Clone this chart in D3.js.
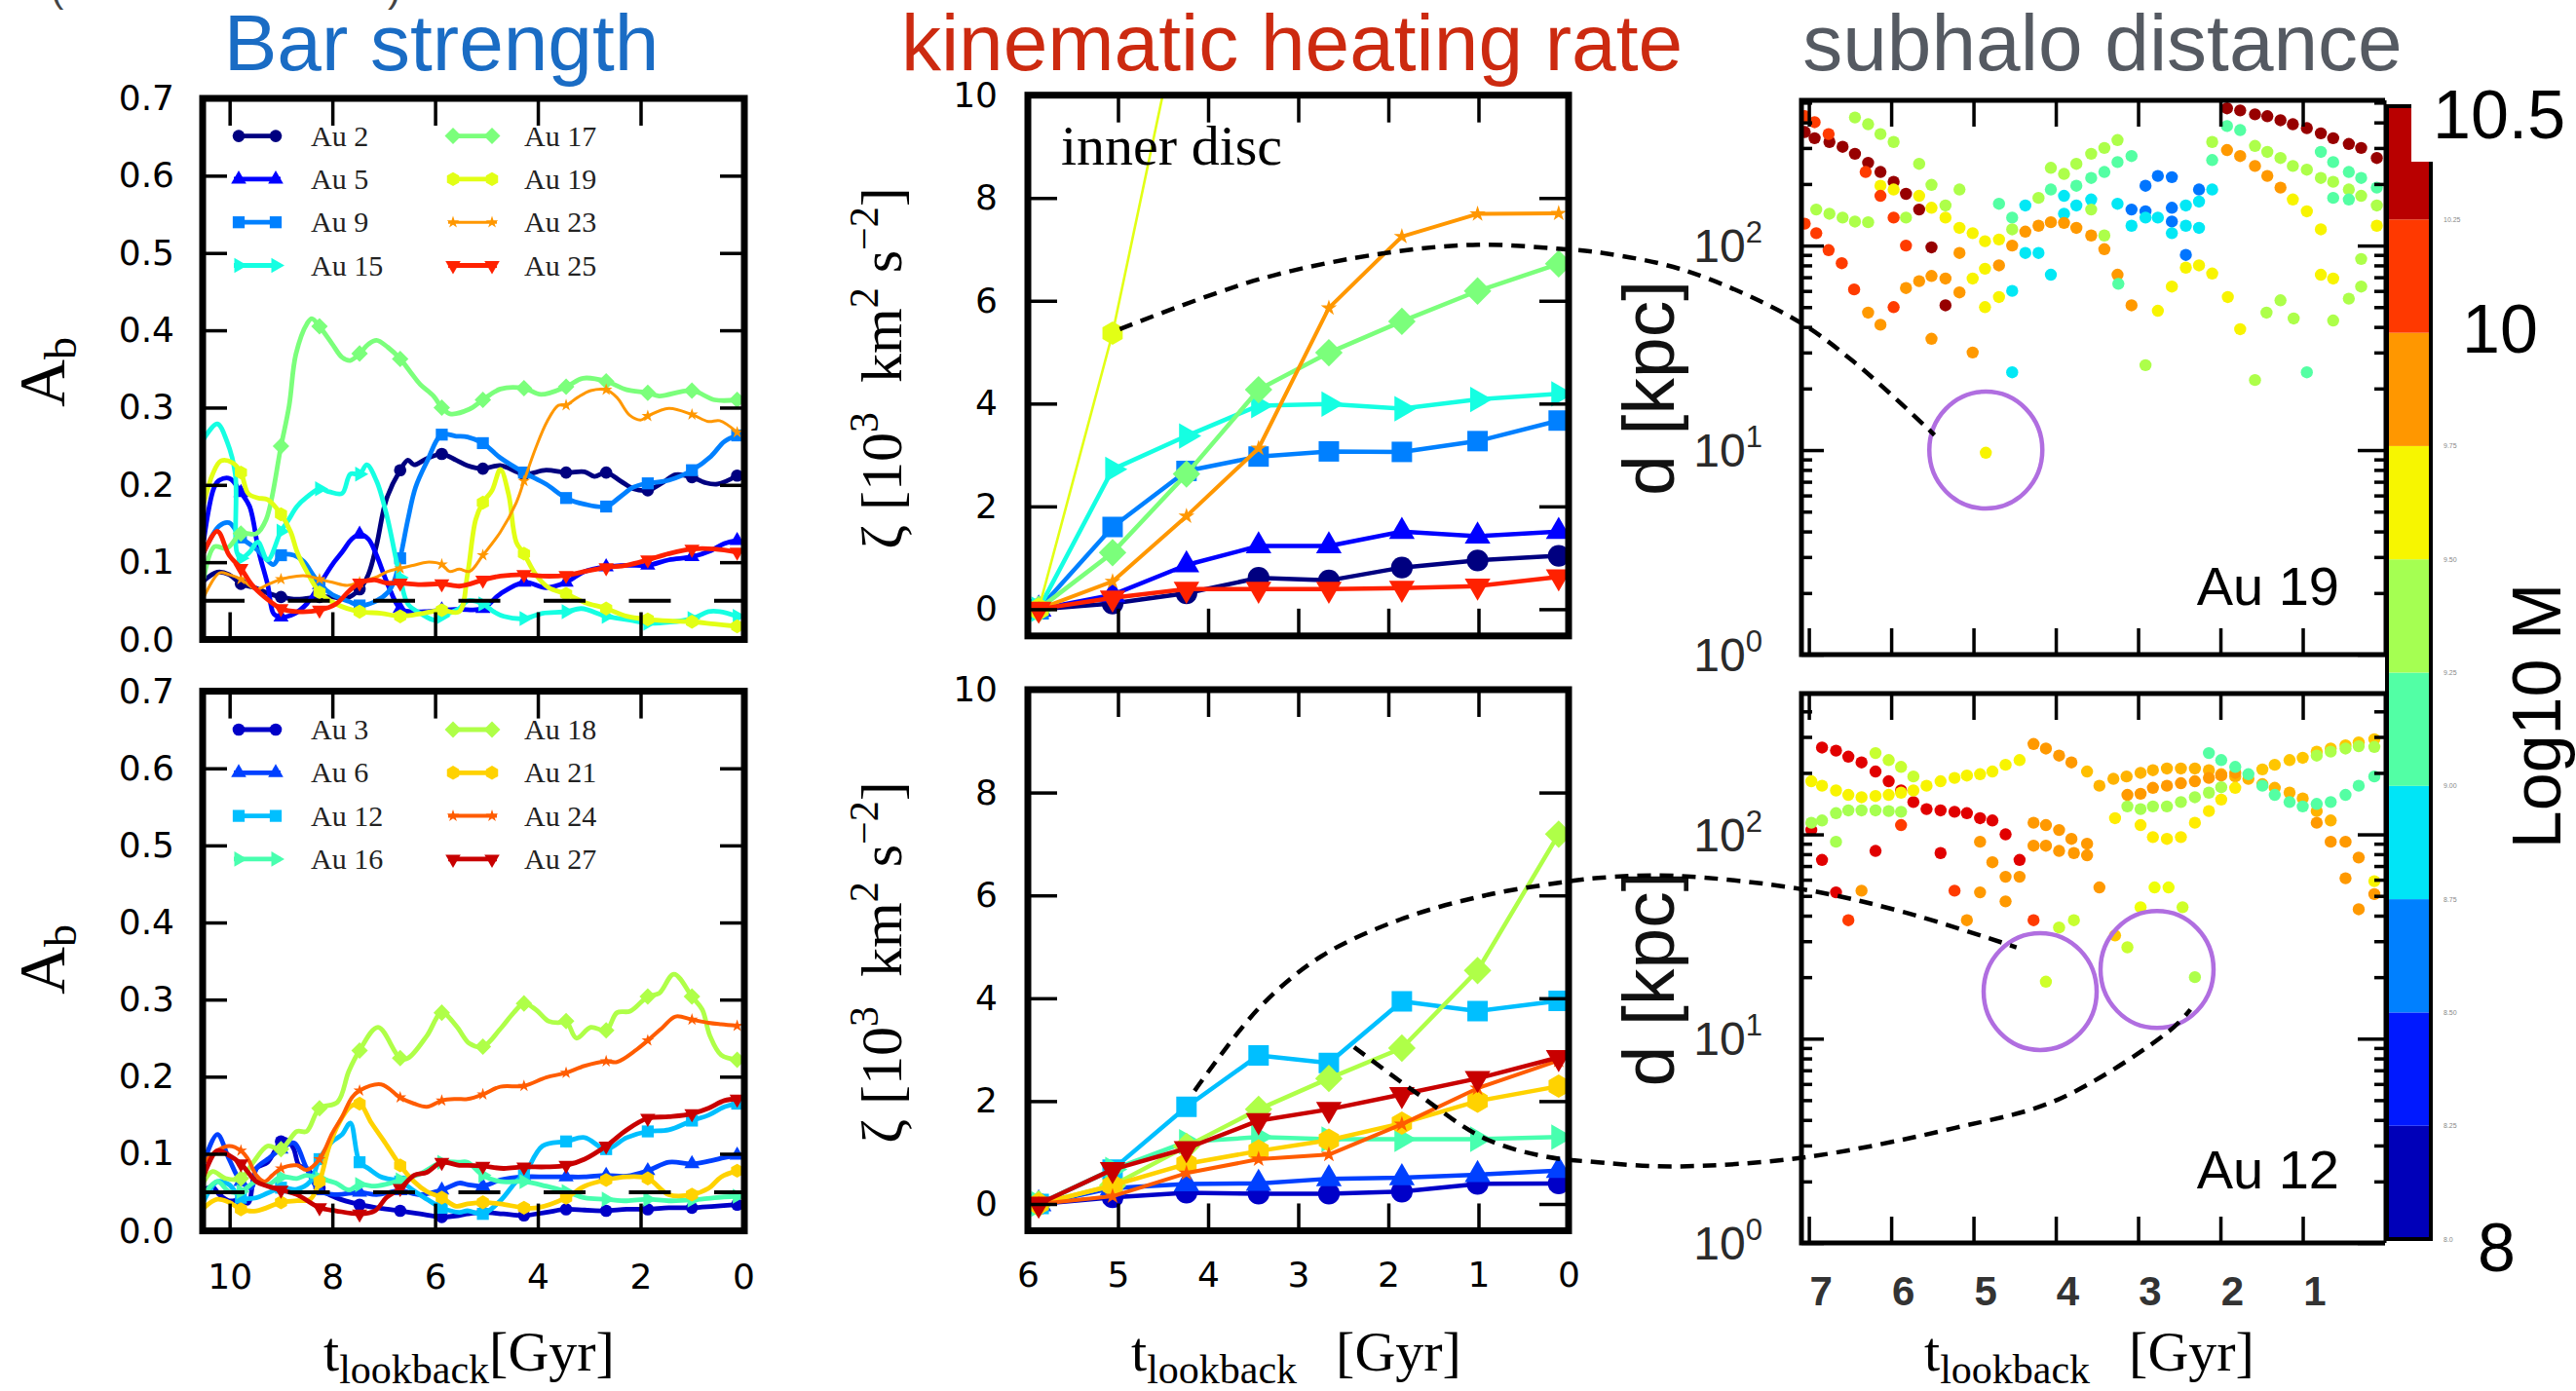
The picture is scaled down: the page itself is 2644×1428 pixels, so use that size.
<!DOCTYPE html>
<html><head><meta charset="utf-8">
<script src="https://cdn.jsdelivr.net/npm/d3@7"></script>
<style>
html,body{margin:0;padding:0;background:#fff;}
svg{display:block;}
</style></head>
<body>
<svg id="fig" width="2644" height="1428" xmlns="http://www.w3.org/2000/svg"></svg>
<script>
// ================= DATA =================
const barTopNames = ["Au 2","Au 5","Au 9","Au 15","Au 17","Au 19","Au 23","Au 25"];
const barBottomNames = ["Au 3","Au 6","Au 12","Au 16","Au 18","Au 21","Au 24","Au 27"];
const markerTimes = [9.78,9.0,8.25,7.47,6.68,5.87,5.07,4.27,3.45,2.67,1.86,1.0,0.12];

// bar strength A_b vs lookback time [Gyr, A_b]
const barAu2 = [[10.5,0.076],[10.24,0.087],[10.01,0.084],[9.78,0.072],[9.51,0.067],[9.26,0.06],[9.0,0.055],[8.69,0.052],[8.25,0.055],[8.0,0.055],[7.74,0.053],[7.47,0.065],[7.3,0.084],[7.14,0.122],[6.95,0.181],[6.68,0.219],[6.53,0.232],[6.41,0.226],[6.16,0.234],[5.87,0.24],[5.59,0.232],[5.37,0.225],[5.07,0.221],[4.73,0.225],[4.27,0.214],[3.84,0.219],[3.45,0.216],[3.09,0.217],[2.9,0.211],[2.67,0.216],[2.39,0.205],[2.14,0.195],[1.86,0.193],[1.57,0.203],[1.32,0.213],[1.0,0.21],[0.75,0.203],[0.5,0.201],[0.12,0.212]];
const barAu5 = [[10.5,0.13],[10.3,0.197],[10.2,0.206],[9.99,0.208],[9.78,0.19],[9.61,0.172],[9.43,0.113],[9.26,0.071],[9.14,0.033],[9.0,0.029],[8.75,0.033],[8.5,0.046],[8.25,0.071],[8.0,0.097],[7.81,0.113],[7.62,0.13],[7.47,0.136],[7.3,0.13],[7.14,0.109],[6.92,0.071],[6.68,0.04],[6.47,0.036],[6.16,0.036],[5.87,0.038],[5.53,0.039],[5.07,0.04],[4.73,0.059],[4.27,0.074],[3.84,0.067],[3.45,0.074],[3.09,0.088],[2.67,0.094],[2.27,0.096],[1.86,0.096],[1.45,0.103],[1.0,0.107],[0.63,0.115],[0.37,0.124],[0.12,0.128]];
const barAu9 = [[10.5,0.113],[10.2,0.147],[10.01,0.151],[9.78,0.132],[9.48,0.117],[9.3,0.105],[9.15,0.097],[9.0,0.109],[8.75,0.109],[8.56,0.101],[8.38,0.084],[8.25,0.072],[8.0,0.058],[7.67,0.049],[7.47,0.044],[7.17,0.049],[6.92,0.061],[6.8,0.075],[6.68,0.105],[6.53,0.155],[6.38,0.197],[6.16,0.23],[5.87,0.265],[5.59,0.263],[5.37,0.262],[5.07,0.254],[4.73,0.235],[4.27,0.216],[3.84,0.201],[3.45,0.183],[3.09,0.175],[2.67,0.172],[2.39,0.185],[2.14,0.197],[1.86,0.202],[1.45,0.206],[1.0,0.219],[0.63,0.237],[0.37,0.256],[0.12,0.264]];
const barAu15 = [[10.5,0.26],[10.24,0.279],[10.05,0.256],[9.89,0.214],[9.86,0.113],[9.78,0.105],[9.61,0.113],[9.45,0.126],[9.26,0.103],[9.0,0.14],[8.85,0.155],[8.69,0.172],[8.5,0.184],[8.25,0.195],[8.06,0.191],[7.81,0.189],[7.65,0.214],[7.47,0.214],[7.33,0.226],[7.14,0.205],[6.95,0.163],[6.68,0.08],[6.53,0.046],[6.29,0.034],[6.0,0.025],[5.87,0.03],[5.53,0.04],[5.37,0.05],[5.07,0.046],[4.86,0.036],[4.66,0.03],[4.27,0.027],[3.91,0.034],[3.45,0.036],[3.15,0.04],[2.67,0.03],[2.2,0.025],[1.86,0.021],[1.0,0.027],[0.68,0.036],[0.46,0.036],[0.12,0.03]];
const barAu17 = [[10.5,0.08],[10.3,0.12],[10.05,0.118],[9.78,0.137],[9.48,0.137],[9.29,0.155],[9.0,0.25],[8.84,0.303],[8.71,0.369],[8.49,0.409],[8.4,0.415],[8.25,0.405],[8.0,0.382],[7.81,0.365],[7.65,0.361],[7.47,0.37],[7.3,0.382],[7.14,0.387],[6.92,0.378],[6.68,0.363],[6.48,0.346],[6.29,0.33],[6.03,0.315],[5.87,0.30],[5.71,0.292],[5.33,0.298],[5.07,0.31],[4.73,0.324],[4.27,0.325],[3.94,0.317],[3.45,0.327],[3.12,0.338],[2.67,0.334],[2.27,0.323],[1.86,0.319],[1.64,0.315],[1.0,0.322],[0.56,0.31],[0.12,0.31]];
const barAu19 = [[10.5,0.177],[10.33,0.214],[10.17,0.231],[9.95,0.229],[9.78,0.216],[9.64,0.189],[9.45,0.183],[9.26,0.181],[9.0,0.162],[8.81,0.139],[8.69,0.114],[8.5,0.088],[8.25,0.061],[7.93,0.046],[7.47,0.036],[7.05,0.034],[6.68,0.03],[6.23,0.034],[5.87,0.038],[5.53,0.036],[5.37,0.084],[5.21,0.155],[5.07,0.177],[4.89,0.193],[4.73,0.22],[4.57,0.188],[4.42,0.126],[4.27,0.111],[4.04,0.084],[3.79,0.067],[3.45,0.059],[3.09,0.048],[2.67,0.04],[2.27,0.03],[1.86,0.026],[1.45,0.024],[1.0,0.023],[0.56,0.02],[0.12,0.017]];
const barAu23 = [[10.5,0.055],[10.2,0.086],[10.01,0.084],[9.78,0.078],[9.48,0.065],[9.26,0.071],[9.0,0.078],[8.69,0.082],[8.47,0.082],[8.25,0.078],[8.0,0.074],[7.71,0.07],[7.47,0.074],[7.17,0.08],[6.92,0.088],[6.68,0.092],[6.41,0.096],[6.16,0.1],[5.87,0.097],[5.72,0.088],[5.53,0.091],[5.33,0.088],[5.07,0.109],[4.73,0.139],[4.42,0.177],[4.27,0.205],[4.04,0.248],[3.82,0.282],[3.6,0.303],[3.45,0.303],[3.23,0.313],[2.97,0.322],[2.67,0.323],[2.46,0.313],[2.21,0.29],[1.99,0.284],[1.86,0.289],[1.45,0.299],[1.0,0.291],[0.68,0.282],[0.46,0.283],[0.12,0.268]];
const barAu25 = [[10.5,0.113],[10.24,0.14],[10.01,0.109],[9.78,0.092],[9.57,0.071],[9.32,0.055],[9.0,0.04],[8.69,0.036],[8.25,0.038],[7.93,0.046],[7.67,0.063],[7.47,0.073],[7.17,0.077],[6.95,0.073],[6.68,0.073],[6.29,0.071],[5.87,0.072],[5.53,0.069],[5.37,0.071],[5.07,0.077],[4.73,0.082],[4.27,0.084],[3.91,0.082],[3.45,0.083],[3.09,0.088],[2.67,0.093],[2.27,0.096],[1.86,0.103],[1.45,0.111],[1.0,0.117],[0.56,0.117],[0.12,0.113]];

const barAu3 = [[10.5,0.053],[10.33,0.057],[10.2,0.047],[10.01,0.039],[9.78,0.04],[9.64,0.036],[9.48,0.081],[9.26,0.089],[9.0,0.116],[8.88,0.118],[8.75,0.106],[8.65,0.085],[8.5,0.081],[8.31,0.064],[8.25,0.055],[7.93,0.043],[7.47,0.034],[7.14,0.03],[6.68,0.026],[6.29,0.022],[5.87,0.018],[5.53,0.02],[5.37,0.022],[5.07,0.024],[4.67,0.022],[4.27,0.02],[3.84,0.024],[3.45,0.028],[3.09,0.027],[2.67,0.026],[2.27,0.028],[1.86,0.028],[1.45,0.03],[1.0,0.03],[0.56,0.032],[0.12,0.034]];
const barAu6 = [[10.5,0.089],[10.24,0.125],[10.01,0.093],[9.78,0.064],[9.57,0.056],[9.48,0.081],[9.26,0.093],[9.0,0.106],[8.75,0.114],[8.5,0.081],[8.25,0.052],[7.93,0.047],[7.47,0.05],[7.14,0.047],[6.68,0.052],[6.29,0.047],[5.87,0.053],[5.53,0.062],[5.37,0.06],[5.07,0.058],[4.73,0.066],[4.27,0.07],[3.84,0.07],[3.45,0.07],[3.09,0.07],[2.67,0.072],[2.27,0.071],[1.86,0.078],[1.45,0.089],[1.0,0.087],[0.63,0.091],[0.37,0.095],[0.12,0.098]];
const barAu12 = [[10.5,0.039],[10.24,0.064],[10.01,0.06],[9.78,0.043],[9.48,0.043],[9.26,0.049],[9.0,0.056],[8.69,0.054],[8.43,0.064],[8.25,0.093],[8.0,0.116],[7.81,0.125],[7.65,0.14],[7.47,0.089],[7.3,0.081],[7.05,0.07],[6.68,0.064],[6.41,0.052],[6.16,0.041],[5.87,0.03],[5.53,0.024],[5.37,0.026],[5.07,0.022],[4.73,0.039],[4.42,0.064],[4.27,0.072],[3.91,0.11],[3.45,0.116],[3.09,0.121],[2.67,0.106],[2.27,0.121],[1.86,0.129],[1.45,0.131],[1.0,0.143],[0.68,0.15],[0.37,0.161],[0.12,0.165]];
const barAu16 = [[10.5,0.047],[10.24,0.064],[10.01,0.051],[9.78,0.051],[9.48,0.064],[9.26,0.06],[9.0,0.07],[8.69,0.068],[8.5,0.072],[8.25,0.068],[7.93,0.062],[7.68,0.053],[7.47,0.06],[7.17,0.058],[6.86,0.062],[6.68,0.066],[6.29,0.074],[5.87,0.089],[5.53,0.089],[5.37,0.089],[5.07,0.072],[4.73,0.064],[4.27,0.064],[3.84,0.058],[3.45,0.051],[3.09,0.043],[2.67,0.041],[2.27,0.039],[1.86,0.041],[1.45,0.039],[1.0,0.04],[0.56,0.043],[0.12,0.045]];
const barAu18 = [[10.5,0.064],[10.33,0.077],[10.08,0.068],[9.78,0.068],[9.54,0.089],[9.26,0.11],[9.0,0.106],[8.69,0.129],[8.5,0.129],[8.25,0.159],[7.9,0.167],[7.68,0.207],[7.47,0.234],[7.11,0.264],[6.68,0.224],[6.53,0.224],[6.16,0.253],[5.87,0.283],[5.59,0.266],[5.33,0.243],[5.07,0.239],[4.73,0.262],[4.47,0.283],[4.27,0.295],[4.04,0.287],[3.79,0.272],[3.6,0.27],[3.45,0.272],[3.25,0.25],[2.97,0.264],[2.67,0.26],[2.46,0.283],[2.2,0.285],[1.86,0.304],[1.64,0.308],[1.35,0.333],[1.0,0.304],[0.8,0.287],[0.65,0.253],[0.43,0.228],[0.12,0.222]];
const barAu21 = [[10.5,0.03],[10.24,0.041],[10.01,0.037],[9.78,0.028],[9.48,0.026],[9.0,0.037],[8.69,0.039],[8.43,0.041],[8.25,0.064],[8.06,0.11],[7.87,0.14],[7.65,0.161],[7.47,0.165],[7.24,0.14],[6.98,0.115],[6.68,0.085],[6.41,0.064],[6.16,0.051],[5.87,0.043],[5.59,0.032],[5.37,0.035],[5.07,0.037],[4.73,0.035],[4.27,0.03],[4.01,0.03],[3.45,0.043],[3.09,0.058],[2.67,0.066],[2.27,0.07],[1.86,0.068],[1.45,0.047],[1.0,0.047],[0.68,0.055],[0.43,0.07],[0.12,0.078]];
const barAu24 = [[10.5,0.089],[10.24,0.104],[10.01,0.11],[9.78,0.104],[9.64,0.093],[9.48,0.072],[9.32,0.064],[9.17,0.072],[9.0,0.081],[8.69,0.085],[8.5,0.079],[8.25,0.093],[8.0,0.127],[7.81,0.148],[7.62,0.173],[7.47,0.182],[7.05,0.19],[6.68,0.173],[6.41,0.165],[6.16,0.161],[5.87,0.169],[5.59,0.171],[5.37,0.171],[5.07,0.177],[4.73,0.187],[4.27,0.188],[3.84,0.199],[3.45,0.205],[3.09,0.214],[2.67,0.22],[2.46,0.219],[2.08,0.235],[1.86,0.247],[1.57,0.264],[1.32,0.278],[1.0,0.274],[0.68,0.27],[0.43,0.268],[0.12,0.266]];
const barAu27 = [[10.5,0.072],[10.24,0.104],[10.01,0.098],[9.78,0.087],[9.48,0.064],[9.26,0.058],[9.0,0.053],[8.69,0.047],[8.25,0.03],[7.93,0.026],[7.47,0.022],[7.17,0.026],[6.95,0.043],[6.68,0.055],[6.41,0.072],[6.16,0.076],[5.87,0.089],[5.53,0.085],[5.37,0.085],[5.07,0.084],[4.67,0.081],[4.27,0.083],[3.84,0.083],[3.45,0.085],[3.09,0.093],[2.67,0.11],[2.27,0.131],[1.86,0.146],[1.45,0.148],[1.0,0.152],[0.68,0.159],[0.37,0.169],[0.12,0.171]];

// kinematic heating rate zeta [10^3 km^2 s^-2] at snapshot lookback times
const heatTimes = [5.88,5.06,4.24,3.44,2.66,1.85,1.01,0.11];
const zetaAu2  = [0,0.11,0.31,0.61,0.56,0.81,0.95,1.04];
const zetaAu5  = [0,0.28,0.86,1.23,1.23,1.51,1.42,1.51];
const zetaAu9  = [0,1.60,2.69,2.97,3.07,3.06,3.27,3.67];
const zetaAu15 = [0,2.72,3.37,3.96,3.99,3.90,4.08,4.19];
const zetaAu17 = [0,1.10,2.63,4.27,4.99,5.60,6.19,6.72];
const zetaAu19 = [0,5.37,12.2];
const zetaAu23 = [0,0.54,1.81,3.13,5.86,7.25,7.69,7.70];
const zetaAu25 = [0,0.22,0.39,0.39,0.39,0.41,0.45,0.63];
const zetaAu3  = [0,0.13,0.22,0.20,0.20,0.24,0.39,0.40];
const zetaAu6  = [0,0.31,0.39,0.40,0.49,0.51,0.57,0.65];
const zetaAu12 = [0,0.67,1.89,2.89,2.74,3.94,3.75,3.95];
const zetaAu16 = [0,0.67,1.21,1.30,1.26,1.26,1.26,1.30];
const zetaAu18 = [0,0.36,1.12,1.84,2.44,3.03,4.54,7.19];
const zetaAu21 = [0,0.36,0.78,1.03,1.24,1.57,2.00,2.29];
const zetaAu24 = [0,0.15,0.60,0.87,0.96,1.55,2.25,2.79];
const zetaAu27 = [0,0.67,1.08,1.62,1.84,2.13,2.44,2.85];

// subhalo distances [lookback Gyr, d kpc, log10 M]
const au19Subhalos = [
[7.05,429,10.12],[6.93,401,10.12],[7.05,359,10.45],[6.93,335,10.45],[6.91,150,9.4],[7.05,128,10.12],[6.91,115,10.12],
[6.75,321,10.45],[6.76,351,10.12],[6.75,143,9.4],[6.76,95,10.12],
[6.59,304,10.45],[6.59,137,9.4],[6.60,82,10.12],
[6.44,423,9.4],[6.44,281,10.45],[6.44,131,9.4],[6.45,61,10.12],
[6.28,392,9.4],[6.28,254,10.45],[6.31,229,10.12],[6.28,130,9.4],[6.28,47,9.87],
[6.13,351,9.4],[6.13,229,10.45],[6.13,196,9.63],[6.13,175,10.12],[6.13,41,9.87],
[5.97,321,9.4],[5.97,205,10.45],[5.97,188,9.63],[5.97,137,10.12],[5.97,50,10.12],
[5.82,179,10.45],[5.82,137,9.4],[5.82,100,10.12],[5.82,62,9.87],
[5.66,251,9.4],[5.66,175,9.63],[5.66,150,10.45],[5.66,67,9.87],
[5.51,198,9.4],[5.51,153,9.63],[5.51,98,10.45],[5.51,71,9.87],[5.51,35,9.87],
[5.34,137,9.63],[5.34,157,9.4],[5.34,69,9.87],[5.34,51,10.45],
[5.17,188,9.4],[5.17,122,9.63],[5.17,92,9.87],[5.17,59,9.87],
[5.01,115,9.63],[5.01,69,9.63],[5.01,30,9.87],
[4.86,105,9.63],[4.86,77,9.63],[4.86,50,9.63],
[4.69,160,9.13],[4.69,107,9.63],[4.69,80,9.87],[4.69,56,9.63],
[4.53,137,9.13],[4.53,120,9.4],[4.53,100,9.87],[4.53,60,8.88],[4.53,24,8.88],
[4.37,157,8.88],[4.37,117,9.87],[4.37,92,8.88],
[4.21,171,9.4],[4.21,125,9.87],[4.21,92,8.88],
[4.06,240,9.4],[4.06,188,9.13],[4.06,130,9.87],[4.06,72,8.88],
[3.90,224,9.4],[3.90,175,8.88],[3.90,143,8.88],[3.90,129,9.87],
[3.75,251,9.4],[3.75,196,9.13],[3.75,157,8.88],[3.75,122,9.87],
[3.57,281,9.4],[3.57,214,9.13],[3.57,168,8.88],[3.57,150,9.4],[3.57,112,9.87],
[3.41,300,9.4],[3.41,229,9.13],[3.41,112,9.4],[3.41,96,9.87],
[3.25,328,9.4],[3.25,256,9.13],[3.25,160,8.88],[3.25,72,9.87],[3.24,65,9.13],
[3.08,274,9.13],[3.08,150,8.6],[3.08,125,8.88],[3.08,51,9.87],
[2.91,196,8.6],[2.91,147,8.6],[2.91,137,8.88],[2.91,26,9.4],
[2.76,219,8.6],[2.76,137,8.88],[2.76,48,9.63],
[2.59,216,8.6],[2.59,153,8.6],[2.59,131,8.6],[2.59,115,8.88],[2.59,63,9.63],
[2.42,157,8.88],[2.42,125,8.88],[2.42,90,8.6],[2.42,78,9.63],
[2.26,188,8.6],[2.26,164,8.88],[2.26,122,8.88],[2.26,80,9.63],
[2.10,321,9.4],[2.10,262,9.13],[2.10,188,8.88],[2.10,73,9.63],
[1.92,469,10.45],[1.92,384,9.13],[1.92,293,9.87],[1.91,56,9.63],
[1.76,458,10.45],[1.76,367,9.13],[1.76,274,9.87],[1.76,39,9.63],
[1.58,438,10.45],[1.58,307,9.4],[1.58,245,9.87],[1.58,22,9.4],
[1.43,429,10.45],[1.43,287,9.4],[1.43,219,9.87],[1.44,47,9.4],
[1.27,410,10.45],[1.27,268,9.4],[1.27,192,9.87],[1.27,54,9.4],
[1.12,392,10.45],[1.12,245,9.4],[1.12,168,9.63],[1.11,44,9.4],
[0.95,375,10.45],[0.95,235,9.4],[0.95,147,9.63],[0.95,24,9.13],
[0.78,354,10.45],[0.78,287,9.13],[0.78,214,9.4],[0.78,120,9.63],[0.78,72,9.63],
[0.63,335,10.45],[0.63,256,9.13],[0.63,205,9.4],[0.63,171,9.13],[0.63,69,9.63],[0.63,43,9.4],
[0.44,314,10.45],[0.44,229,9.13],[0.44,188,9.4],[0.44,168,9.13],[0.44,55,9.4],
[0.29,300,10.45],[0.29,214,9.13],[0.29,175,9.4],[0.29,86,9.4],[0.29,63,9.4],
[0.10,268,10.45],[0.10,192,9.13],[0.10,157,9.4],[0.10,125,9.63],
[4.85,9.7,9.63]
];
const au12Subhalos = [
[6.84,266,10.29],[6.67,257,10.29],[6.52,240,10.29],[6.36,225,10.29],[6.19,203,10.29],[6.03,182,10.29],[5.88,164,10.29],[5.73,144,10.29],[5.57,133,10.29],[5.40,131,10.29],[5.23,129,10.29],[5.08,127,10.29],[4.92,120,10.29],[4.77,117,10.29],[4.61,100,10.29],[4.44,75,10.29],
[6.97,105,10.29],[6.84,75,10.29],[6.19,83,10.29],[5.88,111,10.12],[5.40,81,10.29],[6.67,52,10.29],[6.52,38,10.12],[5.23,53,10.12],[4.27,38,10.12],
[6.97,182,9.63],[6.84,173,9.63],[6.67,164,9.63],[6.52,156,9.63],[6.36,152,9.63],[6.19,154,9.63],[6.03,156,9.63],[5.88,160,9.63],[5.73,164,9.63],[5.57,173,9.63],[5.40,182,9.63],[5.23,189,9.63],[5.08,194,9.63],[4.92,197,9.63],[4.77,203,9.63],[4.61,219,9.63],[4.44,231,9.63],
[6.19,250,9.48],[6.03,231,9.48],[5.88,214,9.48],[5.73,192,9.48],
[6.97,114,9.38],[6.84,117,9.38],[6.67,127,9.38],[6.52,131,9.38],[6.36,131,9.38],[6.19,131,9.38],[6.03,130,9.38],[5.88,129,9.38],[6.67,92,9.38],
[4.92,92,9.87],[4.77,73,9.87],[4.61,62,9.87],[4.44,62,9.87],[4.27,114,9.87],[4.12,111,9.87],[4.12,88,9.87],[3.96,105,9.87],[3.96,83,9.87],[3.81,95,9.87],[3.78,81,9.87],[3.62,79,9.87],[4.27,88,9.87],[3.62,90,9.87],
[6.36,53,9.87],[5.08,38,9.87],[4.92,52,9.87],[4.61,47,9.87],[3.47,55,9.87],
[4.27,277,9.87],[4.12,263,9.87],[3.96,243,9.87],[3.81,225,9.87],[3.62,203,9.77],
[3.47,173,9.8],[3.30,187,9.8],[3.14,192,9.8],[2.97,200,9.8],[2.82,206,9.8],[2.65,210,9.8],[2.48,210,9.8],[2.31,210,9.8],[2.14,206,9.8],[1.99,197,9.8],[1.82,192,9.8],[1.66,187,9.8],[1.49,176,9.8],[1.34,169,9.8],[1.16,160,9.8],[1.00,150,9.8],[0.83,130,9.8],[0.66,117,9.8],
[3.13,156,9.87],[2.97,158,9.87],[2.82,169,9.87],[2.65,173,9.87],[2.48,178,9.87],[2.31,182,9.87],[2.14,189,9.87],[1.99,194,9.87],[1.82,200,9.87],
[3.13,137,9.38],[2.97,133,9.38],[2.82,137,9.38],[2.65,137,9.38],[2.48,144,9.38],[2.31,152,9.38],[2.14,160,9.38],[1.99,170,9.38],
[2.14,250,9.13],[1.99,231,9.13],[1.82,214,9.13],[1.66,197,9.13],[1.49,173,9.13],[1.34,156,9.13],[1.16,144,9.13],[1.00,137,9.13],[0.83,141,9.13],[0.66,144,9.13],[0.48,156,9.13],[0.32,173,9.13],[0.13,192,9.13],
[1.49,208,9.75],[1.34,219,9.75],[1.16,231,9.75],[1.00,237,9.75],[0.83,254,9.75],[0.66,263,9.75],[0.48,273,9.75],[0.32,282,9.75],[0.13,292,9.75],
[0.83,243,9.4],[0.66,254,9.4],[0.48,263,9.4],[0.32,270,9.4],[0.13,268,9.4],
[3.28,120,9.65],[2.97,111,9.65],[2.82,97,9.65],[2.65,95,9.65],[2.48,97,9.65],[2.31,114,9.65],[2.14,130,9.65],[1.99,148,9.65],[1.82,169,9.65],
[0.83,114,9.87],[0.66,92,9.87],[0.48,92,9.87],[0.32,77,9.87],[0.48,61,9.87],[0.32,43,9.87],[0.13,59,9.63],[0.13,51,9.87],
[3.96,35,9.48],[3.78,38,9.48],[3.28,32,9.75],[3.13,28,9.48],[2.97,44,9.6],[2.80,55,9.6],[2.63,55,9.6],[2.46,44,9.5],
[4.12,19,9.5],[2.31,20,9.4]
];
// highlighted encounters (circles) [Gyr, kpc]
const circlesAu19 = [[4.85,10]];
const circlesAu12 = [[4.19,17],[2.77,21.8]];
// dashed connectors, expressed in heating-rate panel units [Gyr, zeta]
const linkTop  = [[4.98,5.45],[3.43,6.42],[2.03,6.93],[1.00,7.09],[0.09,7.01],[-0.38,6.93],[-1.29,6.59],[-2.48,5.67],[-3.16,4.82],[-4.06,3.39]];
const linkBotA = [[4.15,2.2],[3.43,3.82],[2.74,4.82],[1.87,5.53],[0.95,5.99],[0.09,6.25],[-0.33,6.34],[-1.17,6.38],[-2.59,6.12],[-3.73,5.67],[-4.97,4.99]];
const linkBotB = [[2.38,3.05],[1.65,2.11],[0.95,1.29],[0.31,0.94],[-0.33,0.81],[-1.17,0.73],[-2.59,0.90],[-4.29,1.48],[-5.43,2.03],[-6.67,3.37],[-6.90,3.78]];
// colorbar
const massBands = [8.0,8.25,8.5,8.75,9.0,9.25,9.5,9.75,10.0,10.25];
const cbMinorTicks = [10.25,9.75,9.5,9.25,9.0,8.75,8.5,8.25,8.0];
const cbMinorLabels = ["10.25","9.75","9.50","9.25","9.00","8.75","8.50","8.25","8.0"];
const cbMajorTicks = [10.5,10,8];

// ================= STYLE =================
const topColors = ["#000080","#0000ff","#0080ff","#15ffe2","#7bff7b","#e2ff15","#ff9700","#ff2100"];
const botColors = ["#0000c8","#0040ff","#00bfff","#48ffaf","#afff48","#ffd200","#ff5c00","#c80000"];
const markerTypes = ["o","^","s",">","D","h","*","v"];
const SERIF = "'Liberation Serif','DejaVu Serif',serif";
const SANS = "'Liberation Sans',Arial,sans-serif";
const DEJ = "'DejaVu Sans',sans-serif";
const SIZE_L = {o:125,s:150,tri:105,D:145,h:7.2,star:50};
const SIZE_M = {o:390,s:440,tri:300,D:400,h:12,star:85};

const svg = d3.select("#fig");
svg.append("rect").attr("width",2644).attr("height",1428).attr("fill","#fff");
const defs = svg.append("defs");

const jetR = d3.scaleLinear().domain([0,0.35,0.66,0.89,1]).range([0,0,1,1,0.5]).clamp(true);
const jetG = d3.scaleLinear().domain([0,0.125,0.375,0.64,0.91,1]).range([0,0,1,1,0,0]).clamp(true);
const jetB = d3.scaleLinear().domain([0,0.11,0.34,0.65,1]).range([0.5,1,1,0,0]).clamp(true);
const jet = v => d3.rgb(255*jetR(v),255*jetG(v),255*jetB(v)).formatHex();
const massNorm = d3.scaleLinear().domain([8,10.5]).range([0,1]).clamp(true);

function hexPath(r){
  const pts=d3.range(6).map(i=>{const a=Math.PI/3*i-Math.PI/2;return [r*Math.cos(a),r*Math.sin(a)];});
  return "M"+pts.map(p=>p[0].toFixed(2)+","+p[1].toFixed(2)).join("L")+"Z";
}
function symbolFor(type,S){
  if(type==='h') return {d:hexPath(S.h),rot:0};
  if(type==='o') return {d:d3.symbol(d3.symbolCircle,S.o)(),rot:0};
  if(type==='s') return {d:d3.symbol(d3.symbolSquare,S.s)(),rot:0};
  if(type==='D') return {d:d3.symbol(d3.symbolSquare,S.D)(),rot:45};
  if(type==='*') return {d:d3.symbol(d3.symbolStar,S.star)(),rot:0};
  const d=d3.symbol(d3.symbolTriangle,S.tri)();
  return {d,rot:type==='^'?0:(type==='>'?90:180)};
}
function styleAxis(g,font,size,fill){
  g.select(".domain").remove();
  g.selectAll(".tick line").attr("stroke","#000").attr("stroke-width",3.5);
  g.selectAll(".tick text").attr("font-family",font).attr("font-size",size).attr("fill",fill||"#000");
  g.attr("font-family",null).attr("font-size",null);
  return g;
}
function clipRect(id,x0,y0,x1,y1){
  defs.append("clipPath").attr("id",id).append("rect").attr("x",x0).attr("y",y0).attr("width",x1-x0).attr("height",y1-y0);
}

// ================= TITLES =================
svg.append("text").attr("x",52).attr("y",2).attr("font-family",SANS).attr("font-size",40).attr("fill","#444").text("(");
svg.append("text").attr("x",398).attr("y",2).attr("font-family",SANS).attr("font-size",40).attr("fill","#444").text(")");
svg.append("text").attr("x",453).attr("y",72).attr("text-anchor","middle").attr("font-family",SANS).attr("font-size",82).attr("fill","#1a6cc4").text("Bar strength");
svg.append("text").attr("x",1326).attr("y",72).attr("text-anchor","middle").attr("font-family",SANS).attr("font-size",82).attr("fill","#cc2a10").text("kinematic heating rate");
svg.append("text").attr("x",2158).attr("y",72).attr("text-anchor","middle").attr("font-family",SANS).attr("font-size",82).attr("fill","#555a62").text("subhalo distance");

// ================= BAR STRENGTH PANELS =================
const xBar = d3.scaleLinear().domain([10.525,-0.02]).range([208,764]);
const yBarTop = d3.scaleLinear().domain([0,0.7]).range([656.5,101]);
const yBarBot = d3.scaleLinear().domain([0,0.7]).range([1263.6,709.6]);

function barPanel(y,series,names,colors,widths,legendY0,showX){
  const x=xBar, [x0,x1]=x.range(), yb=y(0), yt=y(0.7);
  const g=svg.append("g");
  const line=d3.line().x(d=>x(d[0])).y(d=>y(d[1])).curve(d3.curveCatmullRom.alpha(0.5));
  series.forEach((s,i)=>{
    g.append("path").attr("d",line(s)).attr("fill","none").attr("stroke",colors[i]).attr("stroke-width",widths[i]).attr("stroke-linejoin","round").attr("stroke-linecap","round");
    const pts=s.filter(p=>markerTimes.some(m=>Math.abs(m-p[0])<1e-6));
    const sym=symbolFor(markerTypes[i],SIZE_L);
    g.selectAll(null).data(pts).join("path").attr("d",sym.d)
      .attr("transform",p=>`translate(${x(p[0])},${y(p[1])}) rotate(${sym.rot})`).attr("fill",colors[i]);
  });
  g.append("line").attr("x1",x0).attr("x2",x1).attr("y1",y(0.05)).attr("y2",y(0.05))
    .attr("stroke","#000").attr("stroke-width",4).attr("stroke-dasharray","43,44.5");
  const lg=svg.append("g");
  names.forEach((nm,i)=>{
    const col=Math.floor(i/4), row=i%4;
    const ly=legendY0+row*44.3;
    const lx0=col===0?240:460, lx1=col===0?288:510, tx=col===0?319:538;
    lg.append("line").attr("x1",lx0).attr("x2",lx1).attr("y1",ly).attr("y2",ly).attr("stroke",colors[i]).attr("stroke-width",widths[i]);
    const sym=symbolFor(markerTypes[i],SIZE_L);
    [lx0+5,lx1-5].forEach(mx=>lg.append("path").attr("d",sym.d).attr("transform",`translate(${mx},${ly}) rotate(${sym.rot})`).attr("fill",colors[i]));
    lg.append("text").attr("x",tx).attr("y",ly+10).attr("font-family",SERIF).attr("font-size",30).attr("fill","#222").text(nm);
  });
  styleAxis(svg.append("g").attr("transform",`translate(${x0},0)`).call(d3.axisLeft(y).tickValues([0,0.1,0.2,0.3,0.4,0.5,0.6,0.7]).tickFormat(d3.format(".1f")).tickSizeInner(-25).tickSizeOuter(0).tickPadding(29)),DEJ,36);
  styleAxis(svg.append("g").attr("transform",`translate(${x1},0)`).call(d3.axisRight(y).tickValues([0.1,0.2,0.3,0.4,0.5,0.6]).tickFormat("").tickSizeInner(-25).tickSizeOuter(0)),DEJ,36);
  styleAxis(svg.append("g").attr("transform",`translate(0,${yt})`).call(d3.axisTop(x).tickValues([10,8,6,4,2]).tickFormat("").tickSizeInner(-28).tickSizeOuter(0)),DEJ,36);
  styleAxis(svg.append("g").attr("transform",`translate(0,${yb})`).call(d3.axisBottom(x).tickValues(showX?[10,8,6,4,2,0]:[10,8,6,4,2]).tickFormat(showX?d3.format("d"):"").tickSizeInner(-28).tickSizeOuter(0).tickPadding(34)),DEJ,36);
  svg.append("rect").attr("x",x0).attr("y",yt).attr("width",x1-x0).attr("height",yb-yt).attr("fill","none").attr("stroke","#000").attr("stroke-width",7);
}
barPanel(yBarTop,[barAu2,barAu5,barAu9,barAu15,barAu17,barAu19,barAu23,barAu25],barTopNames,topColors,[4.8,4.8,4.8,4.8,4.8,4.8,3.0,4.8],139.6,false);
barPanel(yBarBot,[barAu3,barAu6,barAu12,barAu16,barAu18,barAu21,barAu24,barAu27],barBottomNames,botColors,[4.8,4.8,4.8,4.8,4.8,4.8,4.0,4.8],749,true);

function abLabel(cy){
  const t=svg.append("text").attr("transform",`translate(66,${cy}) rotate(-90)`).attr("text-anchor","middle").attr("font-family",SERIF).attr("fill","#000");
  t.append("tspan").attr("font-size",68).text("A");
  t.append("tspan").attr("font-size",46).attr("dy",12).text("b");
}
abLabel(382); abLabel(985);

// ================= HEATING RATE PANELS =================
const xHeat = d3.scaleLinear().domain([6,0]).range([1055,1610]);
const yHeatTop = d3.scaleLinear().domain([0,10]).range([625.4,97.7]);
const yHeatBot = d3.scaleLinear().domain([0,10]).range([1236,708]);

function heatPanel(y,series,colors,widths,clipId,showX){
  const x=xHeat, [x0,x1]=x.range(), yt=y(10), yb=y(-0.52);
  clipRect(clipId,x0,yt,x1,yb);
  const g=svg.append("g").attr("clip-path",`url(#${clipId})`);
  const line=d3.line().x(d=>x(d[0])).y(d=>y(d[1]));
  series.forEach((vals,i)=>{
    const pts=vals.map((v,k)=>[heatTimes[k],v]);
    g.append("path").attr("d",line(pts)).attr("fill","none").attr("stroke",colors[i]).attr("stroke-width",widths[i]).attr("stroke-linejoin","round");
    const sym=symbolFor(markerTypes[i],SIZE_M);
    g.selectAll(null).data(pts).join("path").attr("d",sym.d)
      .attr("transform",p=>`translate(${x(p[0])},${y(p[1])}) rotate(${sym.rot})`).attr("fill",colors[i]);
  });
  styleAxis(svg.append("g").attr("transform",`translate(${x0},0)`).call(d3.axisLeft(y).tickValues([0,2,4,6,8,10]).tickFormat(d3.format("d")).tickSizeInner(-30).tickSizeOuter(0).tickPadding(31)),DEJ,36);
  styleAxis(svg.append("g").attr("transform",`translate(${x1},0)`).call(d3.axisRight(y).tickValues([0,2,4,6,8]).tickFormat("").tickSizeInner(-30).tickSizeOuter(0)),DEJ,36);
  styleAxis(svg.append("g").attr("transform",`translate(0,${yt})`).call(d3.axisTop(x).tickValues([5,4,3,2,1]).tickFormat("").tickSizeInner(-28).tickSizeOuter(0)),DEJ,36);
  styleAxis(svg.append("g").attr("transform",`translate(0,${yb})`).call(d3.axisBottom(x).tickValues(showX?[6,5,4,3,2,1,0]:[5,4,3,2,1]).tickFormat(showX?d3.format("d"):"").tickSizeInner(-28).tickSizeOuter(0).tickPadding(32)),DEJ,36);
  svg.append("rect").attr("x",x0).attr("y",yt).attr("width",x1-x0).attr("height",yb-yt).attr("fill","none").attr("stroke","#000").attr("stroke-width",7);
}
heatPanel(yHeatTop,[zetaAu2,zetaAu5,zetaAu9,zetaAu15,zetaAu17,zetaAu19,zetaAu23,zetaAu25],topColors,[4.5,4.5,4.5,4.5,4.5,2.6,4.0,4.5],"clipHeatTop",false);
heatPanel(yHeatBot,[zetaAu3,zetaAu6,zetaAu12,zetaAu16,zetaAu18,zetaAu21,zetaAu24,zetaAu27],botColors,[4.5,4.5,4.5,4.5,4.5,4.5,4.0,4.5],"clipHeatBot",true);

svg.append("text").attr("x",1089).attr("y",169).attr("font-family",SERIF).attr("font-size",58).attr("fill","#000").text("inner disc");

function zetaLabel(cy){
  const t=svg.append("text").attr("transform",`translate(925,${cy}) rotate(-90)`).attr("text-anchor","middle").attr("font-family",SERIF).attr("font-size",60).attr("fill","#000").style("white-space","pre");
  t.append("tspan").text("\u03B6 [10");
  t.append("tspan").attr("font-size",42).attr("dy",-24).text("3");
  t.append("tspan").attr("dy",24).text("  km");
  t.append("tspan").attr("font-size",42).attr("dy",-24).text("2");
  t.append("tspan").attr("dy",24).text(" s");
  t.append("tspan").attr("font-size",42).attr("dy",-24).text("\u22122");
  t.append("tspan").attr("dy",24).text("]");
}
zetaLabel(378); zetaLabel(988);

function tLabel(x,gap){
  const t=svg.append("text").attr("x",x).attr("y",1407).attr("font-family",SERIF).attr("font-size",58).attr("fill","#000");
  t.append("tspan").text("t");
  t.append("tspan").attr("font-size",42).attr("dy",13).text("lookback");
  t.append("tspan").attr("dy",-13).attr("dx",gap).text("[Gyr]");
}
tLabel(332,0); tLabel(1161,40); tLabel(1975,40);

// ================= SUBHALO DISTANCE PANELS =================
const xDist = d3.scaleLinear().domain([7.09,0]).range([1849,2448]);
const yDistTop = d3.scaleLog().domain([1,513]).range([672,103]);
const yDistBot = d3.scaleLog().domain([1,489]).range([1276,712]);
const minorLog = [2,3,4,5,6,7,8,9,20,30,40,50,60,70,80,90,200,300,400,500];

function distPanel(y,dots,circles,label,clipId,showX){
  const x=xDist,[x0,x1]=x.range(),[yb,yt]=y.range();
  clipRect(clipId,x0,yt,x1,yb);
  const g=svg.append("g").attr("clip-path",`url(#${clipId})`);
  g.selectAll(null).data(dots).join("circle").attr("cx",d=>x(d[0])).attr("cy",d=>y(d[1])).attr("r",6.2)
    .attr("fill",d=>jet(massNorm(d[2])));
  svg.selectAll(null).data(circles).join("ellipse").attr("cx",d=>x(d[0])).attr("cy",d=>y(d[1])).attr("rx",58).attr("ry",60)
    .attr("fill","none").attr("stroke","#b06ee0").attr("stroke-width",4.5);
  const maj=[1,10,100].filter(v=>v<=y.domain()[1]), mn=minorLog.filter(v=>v<y.domain()[1]);
  styleAxis(svg.append("g").attr("transform",`translate(${x0},0)`).call(d3.axisLeft(y).tickValues(maj).tickFormat("").tickSizeInner(-23).tickSizeOuter(0)),SANS,40);
  styleAxis(svg.append("g").attr("transform",`translate(${x0},0)`).call(d3.axisLeft(y).tickValues(mn).tickFormat("").tickSizeInner(-11).tickSizeOuter(0)),SANS,40);
  styleAxis(svg.append("g").attr("transform",`translate(${x1},0)`).call(d3.axisRight(y).tickValues(maj).tickFormat("").tickSizeInner(-28).tickSizeOuter(0)),SANS,40);
  styleAxis(svg.append("g").attr("transform",`translate(${x1},0)`).call(d3.axisRight(y).tickValues(mn).tickFormat("").tickSizeInner(-11).tickSizeOuter(0)),SANS,40);
  styleAxis(svg.append("g").attr("transform",`translate(0,${yt})`).call(d3.axisTop(x).tickValues([7,6,5,4,3,2,1]).tickFormat("").tickSizeInner(-27).tickSizeOuter(0)),SANS,40);
  const bx=styleAxis(svg.append("g").attr("transform",`translate(0,${yb})`).call(d3.axisBottom(x).tickValues([7,6,5,4,3,2,1]).tickFormat(showX?d3.format("d"):"").tickSizeInner(-27).tickSizeOuter(0).tickPadding(34)),SANS,42,"#333");
  bx.selectAll(".tick text").attr("x",12).attr("font-weight","bold");
  maj.forEach(v=>{
    const t=svg.append("text").attr("x",x0-40).attr("y",y(v)+17).attr("text-anchor","end").attr("font-family",SANS).attr("font-size",48).attr("fill","#2a2a2a");
    t.append("tspan").text("10");
    t.append("tspan").attr("font-size",31).attr("dy",-20).text(String(Math.round(Math.log10(v))));
  });
  svg.append("path").attr("d",`M${x1},${yt}H${x0}V${yb}H${x1}`).attr("fill","none").attr("stroke","#000").attr("stroke-width",5);
  svg.append("line").attr("x1",x1).attr("x2",x1).attr("y1",yt).attr("y2",yb).attr("stroke","#000").attr("stroke-width",3);
  svg.append("text").attr("x",2401).attr("y",label.y).attr("text-anchor","end").attr("font-family",SANS).attr("font-size",56).attr("fill","#000").text(label.text);
  svg.append("text").attr("transform",`translate(1718,${(yt+yb)/2+11}) rotate(-90)`).attr("text-anchor","middle").attr("font-family",SANS).attr("font-size",75).attr("fill","#111").text("d [kpc]");
}
distPanel(yDistTop,au19Subhalos,circlesAu19,{text:"Au 19",y:621},"clipDistTop",false);
distPanel(yDistBot,au12Subhalos,circlesAu12,{text:"Au 12",y:1220},"clipDistBot",true);

// ================= COLORBAR =================
const cb = d3.scaleLinear().domain([8,10.5]).range([1272,109]);
svg.selectAll(null).data(massBands).join("rect").attr("x",2450).attr("width",45)
  .attr("y",d=>cb(d+0.25)).attr("height",d=>cb(d)-cb(d+0.25)).attr("fill",d=>jet(massNorm(d+0.125)));
svg.append("rect").attr("x",2450).attr("y",109).attr("width",45).attr("height",1163).attr("fill","none").attr("stroke","#000").attr("stroke-width",4);
svg.append("rect").attr("x",2475).attr("y",92).attr("width",169).attr("height",74).attr("fill","#fff");
svg.selectAll(null).data(cbMinorTicks).join("text").attr("x",2508).attr("y",d=>cb(d)+2.5).attr("font-family",SANS).attr("font-size",7).attr("fill","#888")
  .text((d,i)=>cbMinorLabels[i]);
const cbLabelPos = {"10.5":[2497,33],"10":[2527,20],"8":[2543,33]};
svg.selectAll(null).data(cbMajorTicks).join("text").attr("x",d=>cbLabelPos[String(d)][0]).attr("y",d=>cb(d)+cbLabelPos[String(d)][1])
  .attr("font-family",SANS).attr("font-size",70).attr("fill","#000").text(d=>String(d));
svg.append("text").attr("transform","translate(2628,735) rotate(-90)").attr("text-anchor","middle").attr("font-family",SANS).attr("font-size",70).attr("fill","#000").text("Log10 M");

// ================= DASHED CONNECTORS =================
const linkLine = y => d3.line().x(d=>xHeat(d[0])).y(d=>y(d[1])).curve(d3.curveCatmullRom.alpha(0.5));
[[linkTop,yHeatTop],[linkBotA,yHeatBot],[linkBotB,yHeatBot]].forEach(([pts,y])=>{
  svg.append("path").attr("d",linkLine(y)(pts)).attr("fill","none").attr("stroke","#000").attr("stroke-width",4.5).attr("stroke-dasharray","14,9");
});
</script>
</body></html>
